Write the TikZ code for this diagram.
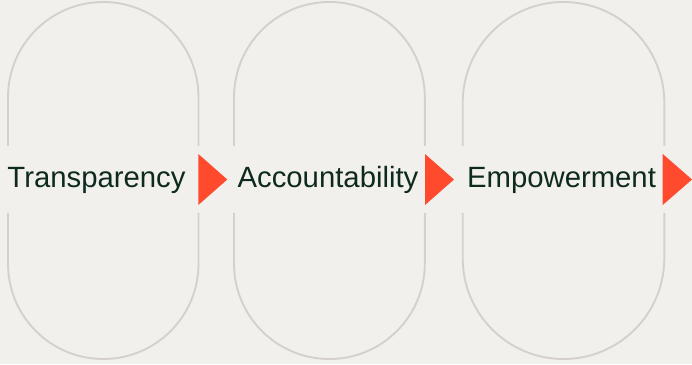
\documentclass[tikz,border=0pt]{standalone}
\usepackage{fontspec}
\setmainfont{Liberation Sans}

\definecolor{paper}{HTML}{F2F0EC}
\definecolor{ringgray}{HTML}{D6D0CD}
\definecolor{arrowred}{HTML}{FF4A2E}
\definecolor{valuegreen}{HTML}{0E2A1E}

\begin{document}
\begin{tikzpicture}[x=1pt,y=1pt,
  ring/.style={draw=ringgray,line width=1.9pt},
  marker/.style={fill=arrowred},
  valuetext/.style={text=valuegreen,anchor=base,inner sep=0pt,
                    font=\fontsize{29.3}{35}\selectfont}]
\fill[paper] (0,0) rectangle (692,364);
\useasboundingbox (0,0) rectangle (692,364);

% stadiums, opened where the words sit
\draw[ring] (8,218) -- (8,266.75) arc[start angle=180,end angle=0,radius=95.25] -- (198.5,218);
\draw[ring] (8,151) -- (8,100.25) arc[start angle=180,end angle=360,radius=95.25] -- (198.5,151);

\draw[ring] (234,218) -- (234,266.6) arc[start angle=180,end angle=0,radius=95.4] -- (424.8,218);
\draw[ring] (234,151) -- (234,100.4) arc[start angle=180,end angle=360,radius=95.4] -- (424.8,151);

\draw[ring] (462.7,218) -- (462.7,261.2) arc[start angle=180,end angle=0,radius=100.8] -- (664.3,218);
\draw[ring] (462.7,151) -- (462.7,105.8) arc[start angle=180,end angle=360,radius=100.8] -- (664.3,151);

% words
\node[valuetext] (transp) at (96.5,176.5) {Transparency};
\node[valuetext] (account) at (328,176.5) {Accountability};
\node[valuetext] (empower) at (561.5,176.5) {Empowerment};

% markers
\fill[marker] (198.3,210) -- (227.3,184.5) -- (198.3,159) -- cycle;
\fill[marker] (425,210) -- (454,184.5) -- (425,159) -- cycle;
\fill[marker] (662.7,210) -- (692,184.5) -- (662.7,159) -- cycle;
\end{tikzpicture}
\end{document}
